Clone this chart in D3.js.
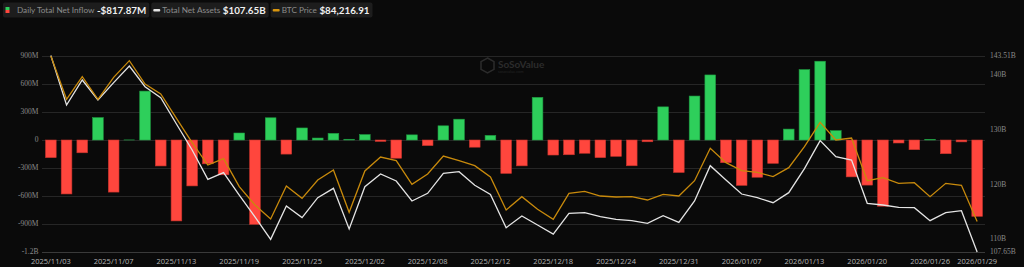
<!DOCTYPE html>
<html>
<head>
<meta charset="utf-8">
<script src="https://cdn.jsdelivr.net/npm/d3@7"></script>
<style>
    html, body { margin: 0; padding: 0; background: #0a0a0a; }
    svg { display: block; }
</style>
</head>
<body>
<div class="container"></div>
<script>
var SVG_WIDTH = 1024;
var SVG_HEIGHT = 267;

// trading days shown on the x axis
var dates = [
    '2025/11/03', '2025/11/04', '2025/11/05', '2025/11/06', '2025/11/07',
    '2025/11/10', '2025/11/11', '2025/11/12', '2025/11/13', '2025/11/14',
    '2025/11/17', '2025/11/18', '2025/11/19', '2025/11/20', '2025/11/21',
    '2025/11/24', '2025/11/25', '2025/11/26', '2025/11/28', '2025/12/01',
    '2025/12/02', '2025/12/03', '2025/12/04', '2025/12/05', '2025/12/08',
    '2025/12/09', '2025/12/10', '2025/12/11', '2025/12/12', '2025/12/15',
    '2025/12/16', '2025/12/17', '2025/12/18', '2025/12/19', '2025/12/22',
    '2025/12/23', '2025/12/24', '2025/12/26', '2025/12/29', '2025/12/30',
    '2025/12/31', '2026/01/02', '2026/01/05', '2026/01/06', '2026/01/07',
    '2026/01/08', '2026/01/09', '2026/01/12', '2026/01/13', '2026/01/14',
    '2026/01/15', '2026/01/16', '2026/01/20', '2026/01/21', '2026/01/22',
    '2026/01/23', '2026/01/26', '2026/01/27', '2026/01/28', '2026/01/29'
];

// daily total net inflow, millions USD
var netInflow = [
    -189, -578, -137, 240, -558, 1, 524, -278, -867, -492,
    -255, -373, 75, -903, 238, -151, 129, 21, 71, 8,
    58, -15, -195, 55, -60, 152, 223, -77, 49, -358,
    -277, 457, -161, -158, -142, -189, -175, -276, -19, 355,
    -348, 471, 697, -243, -486, -399, -250, 117, 754, 844,
    100, -395, -483, -709, -32, -104, 7, -147, -20, -817.87
];

// total net assets, billions USD
var netAssets = [
    143.51, 134.48, 139.04, 135.39, 138.55, 141.59, 137.82, 135.81, 131.01, 126.26,
    120.91, 122.13, 118.05, 114.04, 109.96, 116.04, 113.92, 117.56, 119.27, 111.85,
    119.57, 121.88, 120.61, 116.96, 118.36, 122.01, 122.31, 119.82, 118.17, 112.09,
    114.22, 112.58, 110.93, 114.71, 114.83, 114.10, 113.61, 113.37, 112.88, 114.28,
    113.06, 116.96, 123.40, 120.79, 118.23, 117.56, 116.65, 118.48, 122.86, 127.97,
    125.05, 124.44, 116.53, 116.23, 115.80, 115.74, 113.37, 114.83, 115.19, 107.65
];

// BTC price, USD
var btcPrice = [
    106500, 100663, 103716, 100663, 103626, 105871, 102728, 101381, 98104, 94826,
    91818, 92671, 88900, 86430, 84545, 88990, 87329, 89798, 91145, 85443,
    91010, 92896, 92402, 89214, 90606, 93030, 92402, 91728, 90202, 85757,
    87553, 85847, 84500, 88002, 88272, 87643, 87508, 87553, 87104, 87868,
    87643, 89708, 94063, 92132, 91055, 90831, 90246, 91459, 94287, 97565,
    95185, 95455, 89708, 90112, 89349, 89438, 87553, 89349, 89080, 84216.91
];

var flowTicks = [-1200, -900, -600, -300, 0, 300, 600, 900];
var flowTickLabels = ['-1.2B', '-900M', '-600M', '-300M', '0', '300M', '600M', '900M'];
var assetTicks = [107.65, 110, 120, 130, 140, 143.51];
var assetTickLabels = ['107.65B', '110B', '120B', '130B', '140B', '143.51B'];
var xTickDates = [
    '2025/11/03', '2025/11/07', '2025/11/13', '2025/11/19', '2025/11/25',
    '2025/12/02', '2025/12/08', '2025/12/12', '2025/12/18', '2025/12/24',
    '2025/12/31', '2026/01/07', '2026/01/13', '2026/01/20', '2026/01/26', '2026/01/29'
];

var legendItems = [
    { label: 'Daily Total Net Inflow', value: '-$817.87M', kind: 'bar' },
    { label: 'Total Net Assets', value: '$107.65B', kind: 'white' },
    { label: 'BTC Price', value: '$84,216.91', kind: 'orange' }
];

var GREEN = '#2ecf5b';
var RED = '#ff463d';
var WHITE_LINE = '#e4e4e4';
var ORANGE_LINE = '#c88a0c';

var PLOT_LEFT = 43, PLOT_RIGHT = 985, PLOT_TOP = 56, PLOT_BOTTOM = 252;

var svg = d3.select('.container')
    .append('svg')
    .attr('width', SVG_WIDTH)
    .attr('height', SVG_HEIGHT)
    .style('background', '#0a0a0a');

var x = d3.scaleBand()
    .domain(dates)
    .range([PLOT_LEFT, PLOT_RIGHT])
    .paddingInner(0.32)
    .paddingOuter(0.16);

var yFlow = d3.scaleLinear().domain([-1200, 900]).range([PLOT_BOTTOM, PLOT_TOP]);
var yAssets = d3.scaleLinear().domain([107.65, 143.51]).range([PLOT_BOTTOM, PLOT_TOP - 0.5]);
var yBtc = d3.scaleLinear().domain([80100, 106500]).range([PLOT_BOTTOM, PLOT_TOP]);

function cx(d) {
    return x(d) + x.bandwidth() / 2;
}

// grid
svg.append('g')
    .selectAll('line')
    .data(flowTicks)
    .enter()
    .append('line')
    .attr('x1', PLOT_LEFT - 1)
    .attr('x2', PLOT_RIGHT)
    .attr('y1', function (d) { return Math.round(yFlow(d)) + 0.5; })
    .attr('y2', function (d) { return Math.round(yFlow(d)) + 0.5; })
    .attr('stroke', function (d) { return d === -1200 ? '#3a3a3a' : '#262626'; })
    .attr('stroke-width', 1);

// watermark
var wm = svg.append('g').attr('transform', 'translate(481,58)').attr('opacity', 0.45);
wm.append('path')
    .attr('d', 'M6.5,0 L13,3.7 L13,11.3 L6.5,15 L0,11.3 L0,3.7 Z')
    .attr('fill', 'none')
    .attr('stroke', '#555')
    .attr('stroke-width', 1.5);
wm.append('text')
    .attr('x', 17)
    .attr('y', 9.5)
    .attr('fill', '#555')
    .style('font-family', 'Lato, sans-serif')
    .style('font-weight', 'bold')
    .style('font-size', '10px')
    .text('SoSoValue');
wm.append('text')
    .attr('x', 17)
    .attr('y', 14.5)
    .attr('fill', '#444')
    .style('font-family', 'Lato, sans-serif')
    .style('font-size', '4px')
    .text('sosovalue.com');

// left axis labels
svg.append('g')
    .selectAll('text')
    .data(flowTicks)
    .enter()
    .append('text')
    .attr('x', 38.5)
    .attr('y', function (d) { return yFlow(d) + 2.3; })
    .attr('text-anchor', 'end')
    .attr('fill', '#8a8a8a')
    .style('font-family', '"Liberation Serif", serif')
    .style('font-size', '7.5px')
    .text(function (d, i) { return flowTickLabels[i]; });

// right axis labels
svg.append('g')
    .selectAll('text')
    .data(assetTicks)
    .enter()
    .append('text')
    .attr('x', 990)
    .attr('y', function (d) { return yAssets(d) + 2.3; })
    .attr('fill', '#8a8a8a')
    .style('font-family', '"Liberation Serif", serif')
    .style('font-size', '7.5px')
    .text(function (d, i) { return assetTickLabels[i]; });

// x axis labels
svg.append('g')
    .selectAll('text')
    .data(xTickDates)
    .enter()
    .append('text')
    .attr('x', function (d) { return cx(d); })
    .attr('y', 264)
    .attr('text-anchor', 'middle')
    .attr('fill', '#b5b5b5')
    .style('font-family', '"Open Sans", sans-serif')
    .style('font-size', '7.5px')
    .text(function (d) { return d; });

// bars
svg.append('g')
    .selectAll('rect')
    .data(netInflow)
    .enter()
    .append('rect')
    .attr('x', function (d, i) { return x(dates[i]); })
    .attr('y', function (d) { return yFlow(Math.max(0, d)); })
    .attr('width', x.bandwidth())
    .attr('height', function (d) { return Math.abs(yFlow(d) - yFlow(0)); })
    .attr('fill', function (d) { return d >= 0 ? GREEN : RED; })
    .attr('stroke', function (d) { return d >= 0 ? '#1f9a42' : '#c5332c'; })
    .attr('stroke-width', 0.6);

// lines
var assetsLine = d3.line()
    .x(function (d, i) { return cx(dates[i]); })
    .y(function (d) { return yAssets(d); });

var btcLine = d3.line()
    .x(function (d, i) { return cx(dates[i]); })
    .y(function (d) { return yBtc(d); });

svg.append('path')
    .datum(netAssets)
    .attr('d', assetsLine)
    .attr('fill', 'none')
    .attr('stroke', WHITE_LINE)
    .attr('stroke-width', 1.3);

svg.append('path')
    .datum(btcPrice)
    .attr('d', btcLine)
    .attr('fill', 'none')
    .attr('stroke', ORANGE_LINE)
    .attr('stroke-width', 1.3);

// legend header
var legend = svg.append('g');
var legendX = 3;
legendItems.forEach(function (item) {
    var g = legend.append('g').attr('transform', 'translate(' + legendX + ',2.5)');
    var box = g.append('rect')
        .attr('height', 15)
        .attr('rx', 2)
        .attr('fill', '#1d1d1d');

    if (item.kind === 'bar') {
        g.append('rect').attr('x', 2.5).attr('y', 4.5).attr('width', 4).attr('height', 3).attr('fill', GREEN);
        g.append('rect').attr('x', 2.5).attr('y', 7.5).attr('width', 4).attr('height', 3).attr('fill', RED);
    } else {
        g.append('rect')
            .attr('x', 2).attr('y', 6.5).attr('width', 7).attr('height', 2.5)
            .attr('rx', 1)
            .attr('fill', item.kind === 'white' ? '#e4e4e4' : '#d8950e');
    }

    var labelX = item.kind === 'bar' ? 14 : 11;
    var label = g.append('text')
        .attr('x', labelX)
        .attr('y', 10.8)
        .attr('fill', '#8c8c8c')
        .style('font-family', 'Lato, sans-serif')
        .style('font-size', '8.2px')
        .text(item.label);
    var lw = label.node().getComputedTextLength();

    var value = g.append('text')
        .attr('x', labelX + lw + 2.5)
        .attr('y', 11.3)
        .attr('fill', '#f0f0f0')
        .style('font-family', 'Lato, sans-serif')
        .style('font-weight', 'bold')
        .style('font-size', '9.8px')
        .text(item.value);
    var vw = value.node().getComputedTextLength();

    var w = labelX + lw + 2.5 + vw + 3;
    box.attr('width', w);
    legendX += w + 2;
});
</script>
</body>
</html>
